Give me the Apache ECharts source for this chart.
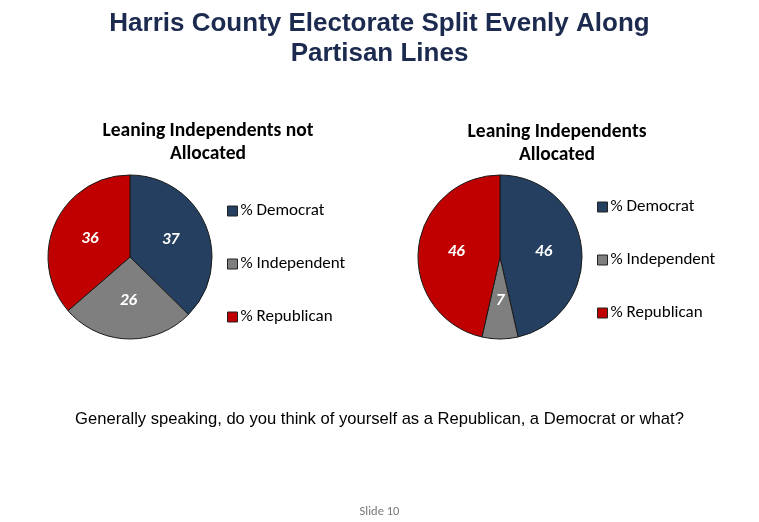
<!DOCTYPE html>
<html><head><meta charset="utf-8">
<script src="https://cdn.jsdelivr.net/npm/echarts@6/dist/echarts.min.js"></script>
<style>html,body{margin:0;padding:0;background:#fff}#c{width:759px;height:522px}</style>
</head><body><div id="c"></div>
<script>
const categories = ['% Democrat', '% Independent', '% Republican'];
const notAllocated = [37, 26, 36];
const allocated = [46, 7, 46];
const colors = ['#243F60', '#7F7F7F', '#C00000'];

const font = 'Carlito, Lato, "Open Sans", sans-serif';
const chart = echarts.init(document.getElementById('c'));
function pieData(vals){ return categories.map((n,i)=>({name:n, value:vals[i], itemStyle:{color:colors[i]}})); }
const legendBase = {
  orient:'vertical', itemWidth:10, itemHeight:10, itemGap:35,
  icon:'rect',
  itemStyle:{borderColor:'#222', borderWidth:1},
  textStyle:{fontFamily:font, fontSize:17, color:'#000', lineHeight:18, padding:[0,0,0,-2]},
  data:categories, selectedMode:false
};
chart.setOption({
  animation:false,
  title:[
    {text:'Harris County Electorate Split Evenly Along\nPartisan Lines', left:'center', top:4,
     textStyle:{fontFamily:'Liberation Sans, Arial', fontWeight:'bold', fontSize:26, color:'#1B2A4E', lineHeight:30}},
    {text:'Leaning Independents not\nAllocated', left:203, textAlign:'center', top:115,
     textStyle:{fontFamily:font, fontWeight:'bold', fontSize:19.5, color:'#000', lineHeight:23}},
    {text:'Leaning Independents\nAllocated', left:552, textAlign:'center', top:116,
     textStyle:{fontFamily:font, fontWeight:'bold', fontSize:19.5, color:'#000', lineHeight:23}},
    {text:'Generally speaking, do you think of yourself as a Republican, a Democrat or what?', left:'center', top:406,
     textStyle:{fontFamily:'Liberation Sans, Arial', fontWeight:'normal', fontSize:16.6, color:'#000'}},
    {text:'Slide 10', left:'center', top:500,
     textStyle:{fontFamily:font, fontWeight:'normal', fontSize:12.5, color:'#777'}}
  ],
  legend:[
    Object.assign({left:222, top:197}, legendBase),
    Object.assign({left:592, top:193}, legendBase)
  ],
  series:[
    {type:'pie', center:[130,257], radius:82, startAngle:90, clockwise:true,
     itemStyle:{borderColor:'#1a1a1a', borderWidth:1},
     label:{show:true, position:'inside', formatter:'{c}', color:'#fff', fontFamily:font, fontSize:17, fontWeight:'bold', fontStyle:'italic'},
     labelLine:{show:false}, emphasis:{disabled:true}, data:pieData(notAllocated)},
    {type:'pie', center:[500,257], radius:82, startAngle:90, clockwise:true,
     itemStyle:{borderColor:'#1a1a1a', borderWidth:1},
     label:{show:true, position:'inside', formatter:'{c}', color:'#fff', fontFamily:font, fontSize:17, fontWeight:'bold', fontStyle:'italic'},
     labelLine:{show:false}, emphasis:{disabled:true}, data:pieData(allocated)}
  ]
});
</script></body></html>
